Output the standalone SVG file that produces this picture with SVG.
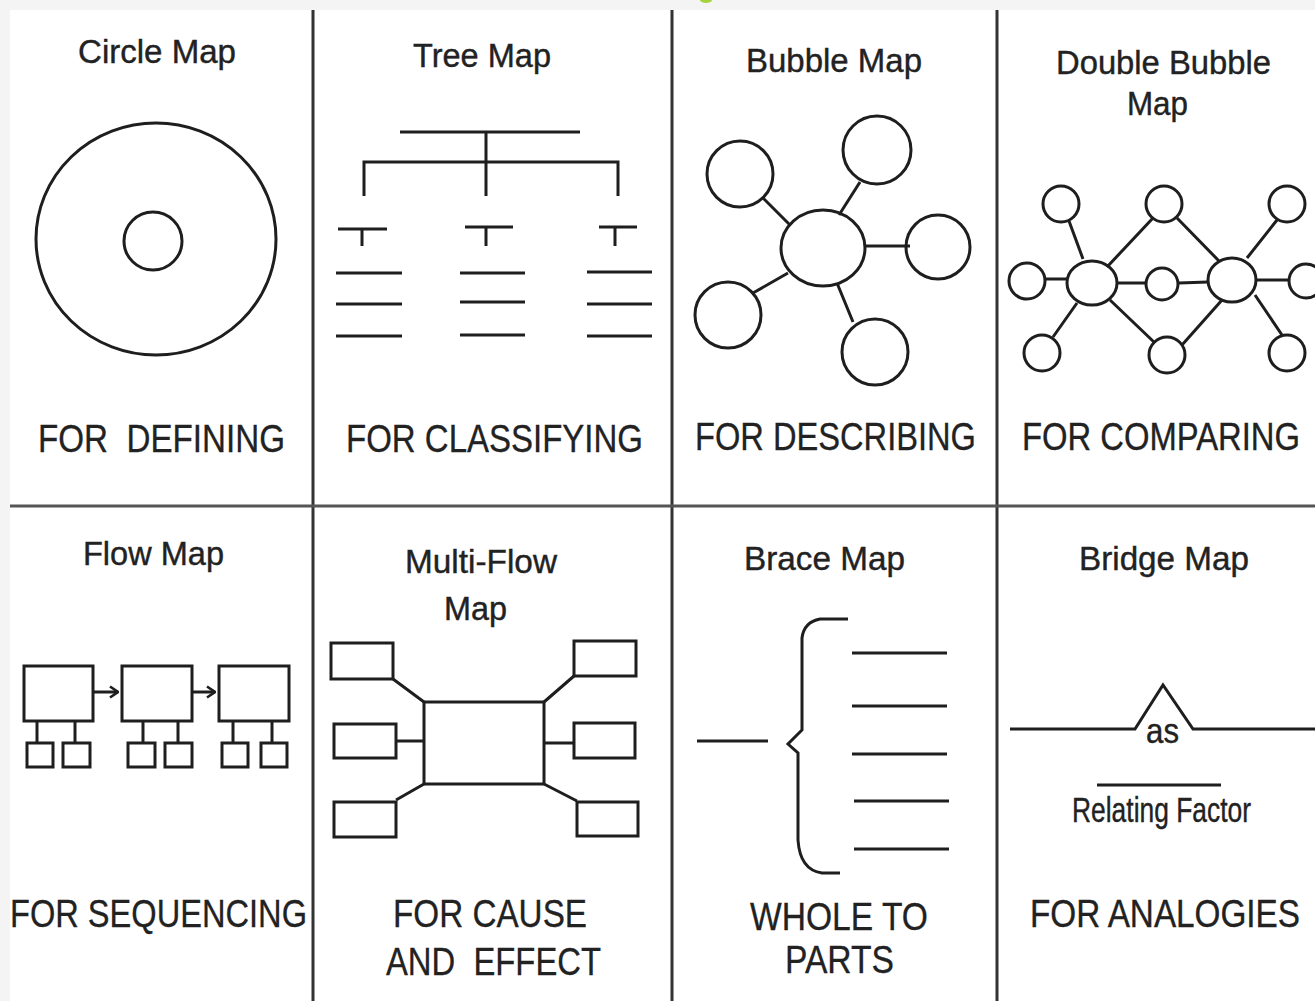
<svg xmlns="http://www.w3.org/2000/svg" width="1315" height="1001" viewBox="0 0 1315 1001">
<style>
.t{font-family:"Liberation Sans",Arial,sans-serif;fill:#222;font-size:33px;stroke:#222;stroke-width:0.4}
.l{font-family:"Liberation Sans",Arial,sans-serif;fill:#222;font-size:38px;stroke:#222;stroke-width:0.3}
.n{font-family:"Liberation Sans",Arial,sans-serif;fill:#222;font-size:33px;stroke:#222;stroke-width:0.3}
.s{fill:none;stroke:#1e1e1e;stroke-width:3}
.div{stroke:#333;stroke-width:3}
</style>
<defs>
<marker id="arr" viewBox="0 0 12 14" refX="11" refY="7" markerWidth="12" markerHeight="14" markerUnits="userSpaceOnUse" orient="auto"><path d="M3,1.5 L11,7 L3,12.5" fill="none" stroke="#1e1e1e" stroke-width="2.6"/></marker>
</defs>
<rect x="0" y="0" width="1315" height="1001" fill="#f4f4f4"/>
<rect x="10" y="10" width="1305" height="991" fill="#fff"/>
<ellipse cx="706" cy="0" rx="6" ry="3" fill="#a6d33a"/>
<g id="dividers">
<line class="div" x1="313" y1="10" x2="313" y2="1001"/>
<line class="div" x1="672" y1="10" x2="672" y2="1001"/>
<line class="div" x1="997" y1="10" x2="997" y2="1001"/>
<line x1="10" y1="506" x2="1315" y2="506" stroke="#555" stroke-width="3"/>
</g>
<g id="circle-map">
<text class="t" x="78" y="63" textLength="158" lengthAdjust="spacingAndGlyphs">Circle Map</text>
<ellipse class="s" cx="156" cy="239" rx="120" ry="116"/>
<circle class="s" cx="153" cy="241" r="29"/>
<text class="l" x="38" y="452" textLength="247" lengthAdjust="spacingAndGlyphs" xml:space="preserve">FOR  DEFINING</text>
</g>
<g id="tree-map">
<text class="t" x="413" y="67" textLength="138" lengthAdjust="spacingAndGlyphs">Tree Map</text>
<path class="s" d="M400,132 H580 M486,132 V196 M364,196 V162 H618 V196 M338,229 H387 M362,229 V246 M465,227 H513 M486,227 V246 M599,227 H637 M615,227 V246 M336,273 H402 M336,304 H402 M336,336 H402 M460,273 H525 M460,302 H525 M460,335 H525 M587,272 H652 M587,304 H652 M587,336 H652"/>
<text class="l" x="346" y="452" textLength="297" lengthAdjust="spacingAndGlyphs">FOR CLASSIFYING</text>
</g>
<g id="bubble-map">
<text class="t" x="746" y="72" textLength="176" lengthAdjust="spacingAndGlyphs">Bubble Map</text>
<path class="s" d="M762,197 L790,225 M860,182 L839,215 M865,246 L910,246 M753,293 L788,273 M837,283 L853,322"/>
<ellipse class="s" cx="823" cy="248" rx="42" ry="38"/>
<circle class="s" cx="740" cy="174" r="33"/>
<circle class="s" cx="877" cy="150" r="34"/>
<circle class="s" cx="938" cy="247" r="32"/>
<circle class="s" cx="728" cy="315" r="33"/>
<circle class="s" cx="875" cy="352" r="33"/>
<text class="l" x="695" y="450" textLength="281" lengthAdjust="spacingAndGlyphs">FOR DESCRIBING</text>
</g>
<g id="double-bubble-map">
<text class="t" x="1056" y="74" textLength="215" lengthAdjust="spacingAndGlyphs">Double Bubble</text>
<text class="t" x="1127" y="115" textLength="61" lengthAdjust="spacingAndGlyphs">Map</text>
<path class="s" d="M1083,259 L1069,221 M1067,279 L1045,279 M1077,303 L1053,337 M1107,267 L1153,218 M1117,283 L1146,283 M1110,300 L1155,343 M1177,218 L1219,261 M1179,283 L1208,282 M1182,345 L1222,300 M1247,258 L1277,220 M1256,280 L1288,280 M1255,295 L1282,335"/>
<ellipse class="s" cx="1092" cy="283" rx="25" ry="22"/>
<ellipse class="s" cx="1232" cy="280" rx="24" ry="22"/>
<circle class="s" cx="1061" cy="204" r="18"/>
<circle class="s" cx="1164" cy="204" r="18"/>
<circle class="s" cx="1287" cy="204" r="18"/>
<circle class="s" cx="1027" cy="281" r="18"/>
<circle class="s" cx="1162" cy="284" r="16"/>
<circle class="s" cx="1306" cy="281" r="17"/>
<circle class="s" cx="1042" cy="353" r="18"/>
<circle class="s" cx="1167" cy="355" r="18"/>
<circle class="s" cx="1287" cy="353" r="18"/>
<text class="n" transform="translate(1022,450) scale(1,1.15)" x="0" y="0" textLength="278" lengthAdjust="spacingAndGlyphs">FOR COMPARING</text>
</g>
<g id="flow-map">
<text class="t" x="83" y="565" textLength="141" lengthAdjust="spacingAndGlyphs">Flow Map</text>
<rect class="s" x="24" y="666" width="69" height="55"/>
<rect class="s" x="122" y="666" width="70" height="55"/>
<rect class="s" x="219" y="666" width="70" height="55"/>
<path class="s" d="M93,692 H118" marker-end="url(#arr)"/>
<path class="s" d="M192,692 H215" marker-end="url(#arr)"/>
<path class="s" d="M37,721 V743 M75,721 V743 M143,721 V743 M178,721 V743 M233,721 V743 M272,721 V743"/>
<rect class="s" x="27" y="743" width="26" height="24"/>
<rect class="s" x="63" y="743" width="27" height="24"/>
<rect class="s" x="128" y="743" width="27" height="24"/>
<rect class="s" x="165" y="743" width="27" height="24"/>
<rect class="s" x="222" y="743" width="26" height="24"/>
<rect class="s" x="261" y="743" width="26" height="24"/>
<text class="l" x="10" y="927" textLength="297" lengthAdjust="spacingAndGlyphs">FOR SEQUENCING</text>
</g>
<g id="multi-flow-map">
<text class="t" x="405" y="573" textLength="152" lengthAdjust="spacingAndGlyphs">Multi-Flow</text>
<text class="t" x="444" y="620" textLength="63" lengthAdjust="spacingAndGlyphs">Map</text>
<path class="s" d="M393,679 L424,702 M396,741 L424,741 M396,800 L424,784 M544,702 L574,676 M544,743 L574,743 M544,784 L577,801"/>
<rect class="s" x="424" y="702" width="120" height="82"/>
<rect class="s" x="331" y="643" width="62" height="36"/>
<rect class="s" x="334" y="724" width="62" height="34"/>
<rect class="s" x="334" y="802" width="62" height="35"/>
<rect class="s" x="574" y="641" width="62" height="35"/>
<rect class="s" x="574" y="723" width="61" height="35"/>
<rect class="s" x="577" y="802" width="61" height="34"/>
<text class="l" x="393" y="927" textLength="194" lengthAdjust="spacingAndGlyphs">FOR CAUSE</text>
<text class="l" x="386" y="975" textLength="215" lengthAdjust="spacingAndGlyphs" xml:space="preserve">AND  EFFECT</text>
</g>
<g id="brace-map">
<text class="t" x="744" y="570" textLength="161" lengthAdjust="spacingAndGlyphs">Brace Map</text>
<path class="s" d="M697,741 H768"/>
<path class="s" d="M848,619 H820 Q804,622 802,638 V730 L788,744 L798,753 V840 Q800,870 822,873 H840"/>
<path class="s" d="M852,653 H947 M852,706 H947 M852,754 H947 M854,801 H949 M854,849 H949"/>
<text class="l" x="750" y="930" textLength="178" lengthAdjust="spacingAndGlyphs">WHOLE TO</text>
<text class="l" x="785" y="973" textLength="109" lengthAdjust="spacingAndGlyphs">PARTS</text>
</g>
<g id="bridge-map">
<text class="t" x="1079" y="570" textLength="170" lengthAdjust="spacingAndGlyphs">Bridge Map</text>
<path class="s" d="M1010,729 H1135 L1163,685 L1193,729 H1315"/>
<text class="t" x="1146" y="743" textLength="33" lengthAdjust="spacingAndGlyphs" style="font-size:35px">as</text>
<path class="s" d="M1097,785 H1221"/>
<text class="t" x="1072" y="822" textLength="179" lengthAdjust="spacingAndGlyphs" style="font-size:35px">Relating Factor</text>
<text class="n" transform="translate(1030,927) scale(1,1.15)" x="0" y="0" textLength="270" lengthAdjust="spacingAndGlyphs">FOR ANALOGIES</text>
</g>
</svg>
